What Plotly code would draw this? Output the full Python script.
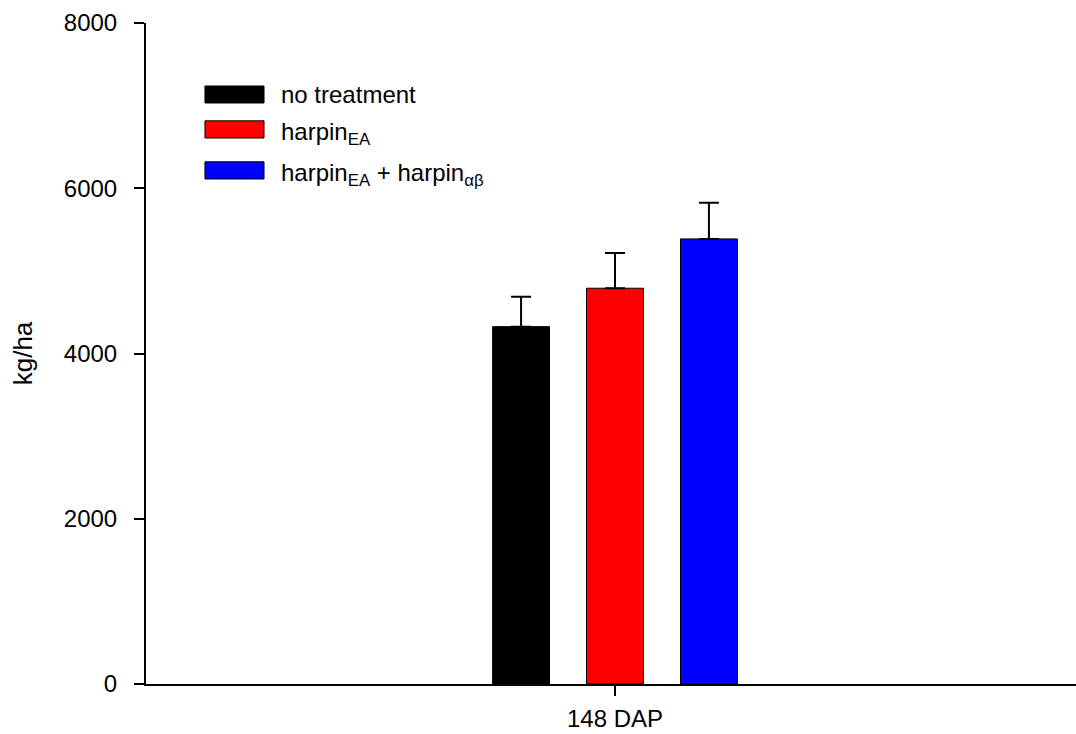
import plotly.graph_objects as go

categories = ["148 DAP"]
series_names = ["no treatment", "harpin<sub>EA</sub>", "harpin<sub>EA</sub> + harpin<sub>αβ</sub>"]
series_colors = ["#000000", "#ff0000", "#0000ff"]
no_treatment = [4325]
harpin_ea = [4790]
harpin_ea_ab = [5387]
no_treatment_err = [363]
harpin_ea_err = [427]
harpin_ea_ab_err = [436]
y_ticks = [0, 2000, 4000, 6000, 8000]

values = [no_treatment, harpin_ea, harpin_ea_ab]
errors = [no_treatment_err, harpin_ea_err, harpin_ea_ab_err]

FONT = "Arial, Liberation Sans, sans-serif"
FS = 24
fig = go.Figure()
for name, col, v, e in zip(series_names, series_colors, values, errors):
    fig.add_trace(go.Bar(
        x=categories, y=v, name=name,
        marker=dict(color=col, line=dict(color="#000000", width=1)),
        error_y=dict(type="data", symmetric=False, array=e, arrayminus=[0] * len(e),
                     color="#000000", thickness=2, width=10),
        showlegend=False,
    ))

# legend drawn as boxes + labels (paper coordinates)
leg_boxes = [(0.879, 0.9047), (0.826, 0.852), (0.764, 0.790)]
leg_text_dy = [0.0, -0.006, -0.006]
for (y0, y1), dy, col, name in zip(leg_boxes, leg_text_dy, series_colors, series_names):
    fig.add_shape(type="rect", xref="paper", yref="paper", x0=0.0634, x1=0.1269,
                  y0=y0, y1=y1, fillcolor=col, line=dict(color="#000000", width=1))
    fig.add_annotation(xref="paper", yref="paper", x=0.143, y=(y0 + y1) / 2 + dy,
                       text=name, showarrow=False, xanchor="left", yanchor="middle",
                       font=dict(family=FONT, size=FS, color="#000000"))

fig.update_layout(
    width=1076, height=734,
    margin=dict(l=146, r=0, t=23, b=50),
    paper_bgcolor="white", plot_bgcolor="white",
    barmode="group", bargap=0.697, bargroupgap=0.394,
    font=dict(family=FONT, size=FS, color="#000000"),
    xaxis=dict(type="category", range=[-0.5043, 0.4957], showline=True, linecolor="#000000",
               linewidth=2, ticks="outside", ticklen=10, tickwidth=1.5, tickcolor="#000000",
               showgrid=False, zeroline=False, tickfont=dict(size=FS),
               ticklabelstandoff=2),
    yaxis=dict(range=[0, 8000], tickvals=y_ticks, showline=True, linecolor="#000000",
               linewidth=2, ticks="outside", ticklen=10, tickwidth=1.5, tickcolor="#000000",
               showgrid=False, zeroline=False, tickfont=dict(size=FS),
               ticklabelstandoff=12,
               title=dict(text="kg/ha", font=dict(size=26), standoff=24)),
)

fig.write_html("out.html", config={"displayModeBar": False},
               post_script="document.body.style.margin='0';document.body.style.overflow='hidden';")
